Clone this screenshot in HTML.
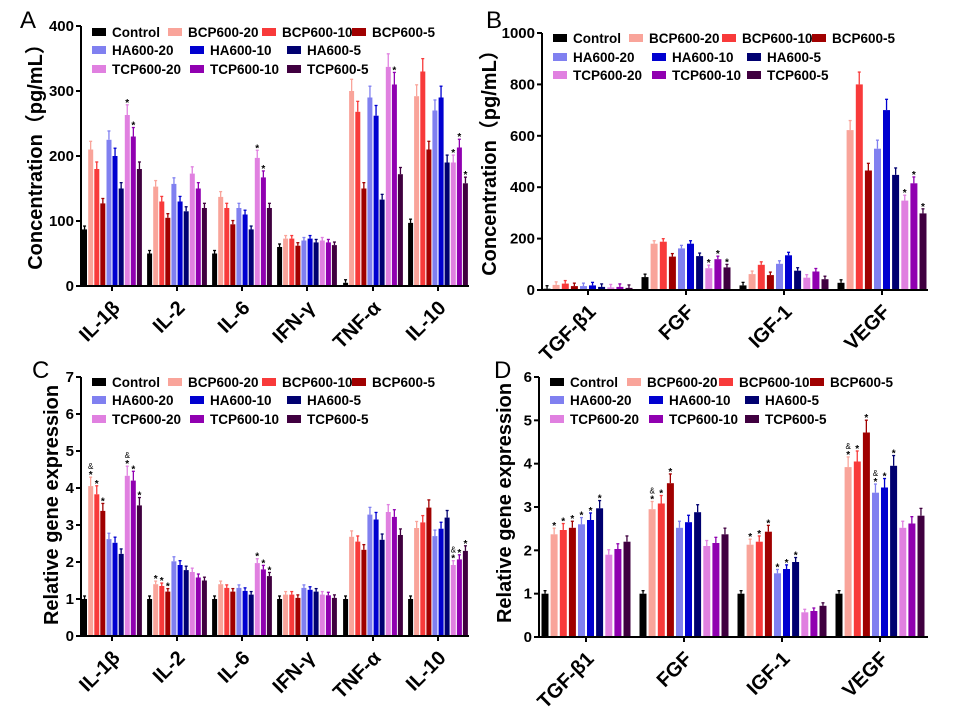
<!DOCTYPE html>
<html><head><meta charset="utf-8"><style>
html,body{margin:0;padding:0;background:#fff}
svg{display:block;font-family:"Liberation Sans","Noto Sans CJK SC",sans-serif}
</style></head><body>
<svg id="s" width="955" height="714" viewBox="0 0 955 714" xmlns="http://www.w3.org/2000/svg"></svg>
<script>
const C=['#000000','#f9a49a','#f83a3a','#a00000','#8080f0','#0000d0','#000070','#e080e0','#9000b0','#400040'];
const N=['Control','BCP600-20','BCP600-10','BCP600-5','HA600-20','HA600-10','HA600-5','TCP600-20','TCP600-10','TCP600-5'];
let h='';
function panel(p){
  const {ax,y0,ytop,vmax,step,xend,ticks,pitch,bw,cats,vals,lab,labx,laby,leg,stars}=p;
  const sc=(y0-ytop)/vmax;
  vals.forEach((g,gi)=>{
    const cx=ticks[gi];
    g.forEach((v,i)=>{
      const x=cx+(i-4.5)*pitch-bw/2;
      const y=y0-v*sc;
      const e=Math.max(3,v*sc*0.06);
      h+=`<rect x="${x.toFixed(1)}" y="${y.toFixed(1)}" width="${bw}" height="${(v*sc).toFixed(1)}" fill="${C[i]}"/>`;
      const mx=x+bw/2;
      h+=`<line x1="${mx}" x2="${mx}" y1="${y}" y2="${y-e}" stroke="${C[i]}" stroke-width="1.3"/><line x1="${mx-1.5}" x2="${mx+1.5}" y1="${y-e}" y2="${y-e}" stroke="${C[i]}" stroke-width="1.3"/>`;
    });
  });
  (stars||[]).forEach(s=>{
    const [gi,i,t]=s; const v=vals[gi][i];
    const mx=ticks[gi]+(i-4.5)*pitch; const y=y0-v*sc-Math.max(3,v*sc*0.06)-3;
    h+=`<text x="${mx}" y="${y+4}" font-size="10" font-weight="bold" text-anchor="middle">*</text>`;
    if(t) h+=`<text x="${mx}" y="${y-5}" font-size="8" text-anchor="middle">&amp;</text>`;
  });
  h+=`<line x1="${ax}" x2="${ax}" y1="${ytop}" y2="${y0+1}" stroke="#000" stroke-width="2"/>`;
  h+=`<line x1="${ax-5}" x2="${xend}" y1="${y0}" y2="${y0}" stroke="#000" stroke-width="2"/>`;
  for(let v=0;v<=vmax+1e-9;v+=step){
    const y=y0-v*sc;
    h+=`<line x1="${ax-5}" x2="${ax}" y1="${y}" y2="${y}" stroke="#000" stroke-width="2"/>`;
    h+=`<text x="${ax-7}" y="${y+5}" font-size="15" font-weight="bold" text-anchor="end">${Math.round(v)}</text>`;
  }
  ticks.forEach((t,i)=>{
    h+=`<line x1="${t}" x2="${t}" y1="${y0}" y2="${y0+5}" stroke="#000" stroke-width="2"/>`;
    h+=`<text transform="translate(${t+9},${y0+23}) rotate(-45)" font-size="20" font-weight="bold" text-anchor="end">${cats[i]}</text>`;
  });
  h+=`<text transform="translate(${labx},${laby}) rotate(-90)" font-size="20" font-weight="bold" text-anchor="middle">${lab}</text>`;
  const [ry,c1,c2]=leg;
  for(let k=0;k<10;k++){
    let x,y;
    if(k<4){x=c1[k];y=ry[0];} else {const r=Math.floor((k-4)/3)+1; x=c2[(k-4)%3]; y=ry[r];}
    h+=`<rect x="${x}" y="${y-4}" width="14" height="8" fill="${C[k]}"/><text x="${x+20}" y="${y+5}" font-size="13.5" font-weight="bold">${N[k]}</text>`;
  }
}
const catsA=['IL-1β','IL-2','IL-6','IFN-γ','TNF-α','IL-10'];
const catsB=['TGF-β1','FGF','IGF-1','VEGF'];
const tA=[112,177,242,307,373,438];
panel({ax:81,y0:286,ytop:26,vmax:400,step:100,xend:469,ticks:tA,pitch:6.1,bw:5,cats:catsA,
 vals:[[87,210,180,127,225,200,150,263,230,180],[50,153,130,105,157,130,115,173,150,120],[50,137,120,95,120,110,87,197,167,120],[60,73,73,62,70,73,67,70,67,63],[5,300,268,150,290,262,133,337,310,172],[97,292,330,210,270,290,190,190,213,158]],
 lab:'Concentration（pg/mL）',labx:42,laby:152,leg:[[32,50,69],[92,168,262,352],[92,190,287]],
 stars:[[0,7],[0,8],[2,7],[2,8],[4,8],[5,7],[5,8],[5,9]]});
panel({ax:542,y0:290,ytop:33,vmax:1000,step:200,xend:928,ticks:[588,686,784,882],pitch:9.1,bw:7,cats:catsB,
 vals:[[5,20,25,15,15,18,12,10,12,8],[50,180,188,130,162,180,132,85,120,88],[18,62,98,58,102,135,75,48,72,42],[28,622,800,465,550,700,448,348,415,298]],
 lab:'Concentration（pg/mL）',labx:496,laby:158,leg:[[38,57,75],[553,629,722,812],[553,652,747]],
 stars:[[1,7],[1,8],[1,9],[3,7],[3,8],[3,9]]});
panel({ax:81,y0:636,ytop:377,vmax:7,step:1,xend:469,ticks:tA,pitch:6.1,bw:5,cats:catsA,
 vals:[[1,4.05,3.83,3.38,2.62,2.52,2.22,4.33,4.2,3.53],[1,1.4,1.35,1.2,2.02,1.92,1.78,1.73,1.58,1.5],[1,1.4,1.3,1.2,1.3,1.22,1.12,1.97,1.8,1.62],[1,1.12,1.12,1.03,1.3,1.25,1.2,1.12,1.1,1.03],[1,2.68,2.55,2.33,3.28,3.15,2.6,3.35,3.22,2.73],[1,2.92,3.07,3.47,2.7,2.9,3.2,1.92,2.07,2.3]],
 lab:'Relative gene expression',labx:58,laby:505,leg:[[382,400,419],[92,168,262,352],[92,190,287]],
 stars:[[0,1,1],[0,2],[0,3],[0,7,1],[0,8],[0,9],[1,1],[1,2],[1,3],[2,7],[2,8],[2,9],[5,7,1],[5,8],[5,9]]});
panel({ax:539,y0:637,ytop:377,vmax:6,step:1,xend:928,ticks:[586,684,782,880],pitch:9.1,bw:7,cats:catsB,
 vals:[[1,2.37,2.47,2.52,2.6,2.7,2.97,1.9,2.03,2.2],[1,2.95,3.08,3.55,2.52,2.65,2.88,2.1,2.17,2.37],[1,2.13,2.2,2.43,1.47,1.57,1.73,0.57,0.6,0.72],[1,3.92,4.05,4.72,3.33,3.45,3.95,2.52,2.62,2.8]],
 lab:'Relative gene expression',labx:511,laby:503,leg:[[382,400,419],[550,627,719,810],[550,649,745]],
 stars:[[0,1],[0,2],[0,3],[0,4],[0,5],[0,6],[1,1,1],[1,2],[1,3],[2,1],[2,2],[2,3],[2,4],[2,5],[2,6],[3,1,1],[3,2],[3,3],[3,4,1],[3,5],[3,6]]});
h+=`<text x="20" y="28" font-size="24">A</text><text x="486" y="28" font-size="24">B</text><text x="32" y="378" font-size="24">C</text><text x="494" y="378" font-size="24">D</text>`;
document.getElementById('s').innerHTML=h;
</script>
</body></html>
